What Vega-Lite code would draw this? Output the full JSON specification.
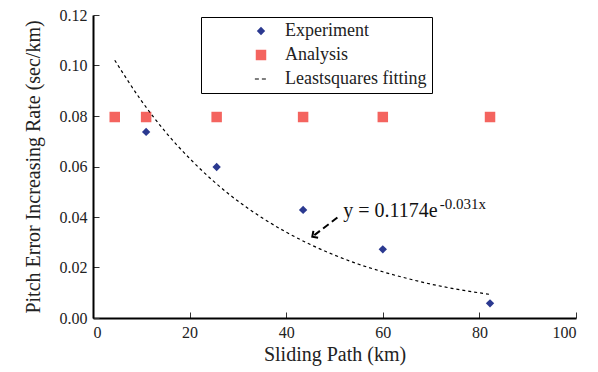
{
  "$schema": "https://vega.github.io/schema/vega-lite/v6.json",
  "width": 483,
  "height": 303,
  "autosize": "none",
  "padding": {"left": 93, "top": 15, "right": 22, "bottom": 54},
  "background": "white",
  "config": {
    "view": {"stroke": null},
    "font": "Liberation Serif",
    "axis": {
      "grid": false,
      "domainColor": "black",
      "domainWidth": 2,
      "tickColor": "#333",
      "tickWidth": 1,
      "tickSize": -6,
      "labelFont": "Liberation Serif",
      "labelFontSize": 16,
      "labelColor": "#222",
      "titleFont": "Liberation Serif",
      "titleFontSize": 20,
      "titleFontWeight": "normal",
      "titleColor": "#222"
    },
    "legend": {
      "labelFont": "Liberation Serif",
      "title": null,
      "orient": "none",
      "legendX": 108,
      "legendY": 2,
      "padding": 5,
      "strokeColor": "black",
      "fillColor": "white",
      "symbolSize": 400,
      "symbolOffset": 46,
      "symbolStrokeWidth": 1.2,
      "labelOffset": 15,
      "rowPadding": 6,
      "labelFontSize": 18,
      "labelColor": "#222",
      "labelLimit": 400
    }
  },
  "datasets": {
    "pts": [
      {"series": "Analysis", "x": 4.5, "y": 0.0796},
      {"series": "Analysis", "x": 11.0, "y": 0.0796},
      {"series": "Analysis", "x": 25.6, "y": 0.0796},
      {"series": "Analysis", "x": 43.5, "y": 0.0796},
      {"series": "Analysis", "x": 60.0, "y": 0.0796},
      {"series": "Analysis", "x": 82.2, "y": 0.0796},
      {"series": "Experiment", "x": 11.0, "y": 0.0737},
      {"series": "Experiment", "x": 25.6, "y": 0.0598},
      {"series": "Experiment", "x": 43.5, "y": 0.0428},
      {"series": "Experiment", "x": 60.0, "y": 0.0272},
      {"series": "Experiment", "x": 82.2, "y": 0.0058}
    ],
    "fit": [
      {"series": "Leastsquares fitting", "x": 4.5, "y": 0.1021},
      {"series": "Leastsquares fitting", "x": 10, "y": 0.0861},
      {"series": "Leastsquares fitting", "x": 15, "y": 0.0737},
      {"series": "Leastsquares fitting", "x": 20, "y": 0.0632},
      {"series": "Leastsquares fitting", "x": 25, "y": 0.0541},
      {"series": "Leastsquares fitting", "x": 30, "y": 0.0463},
      {"series": "Leastsquares fitting", "x": 35, "y": 0.0397},
      {"series": "Leastsquares fitting", "x": 40, "y": 0.0340},
      {"series": "Leastsquares fitting", "x": 45, "y": 0.0291},
      {"series": "Leastsquares fitting", "x": 50, "y": 0.0249},
      {"series": "Leastsquares fitting", "x": 55, "y": 0.0213},
      {"series": "Leastsquares fitting", "x": 60, "y": 0.0183},
      {"series": "Leastsquares fitting", "x": 65, "y": 0.0157},
      {"series": "Leastsquares fitting", "x": 70, "y": 0.0134},
      {"series": "Leastsquares fitting", "x": 75, "y": 0.0115},
      {"series": "Leastsquares fitting", "x": 82, "y": 0.0094}
    ],
    "arrow": [
      {"x": 50.6, "y": 0.0398, "x2": 45.4, "y2": 0.0322}
    ],
    "label": [
      {"x": 51.8, "y": 0.0422, "text": "y = 0.1174e", "sup": "-0.031x", "xs": 71.8, "ys": 0.0450}
    ]
  },
  "layer": [
    {
      "data": {"name": "pts"},
      "mark": {"type": "point", "filled": true, "opacity": 1},
      "encoding": {
        "x": {"field": "x", "type": "quantitative", "scale": {"domain": [0, 100]}, "axis": {"values": [0, 20, 40, 60, 80, 100], "title": "Sliding Path (km)", "labelPadding": 12, "titlePadding": 4}},
        "y": {"field": "y", "type": "quantitative", "scale": {"domain": [0, 0.12]}, "axis": {"values": [0, 0.02, 0.04, 0.06, 0.08, 0.1, 0.12], "format": ".2f", "title": "Pitch Error Increasing Rate (sec/km)", "labelPadding": 12, "titlePadding": 16}},
        "color": {
          "field": "series", "type": "nominal",
          "scale": {"domain": ["Experiment", "Analysis", "Leastsquares fitting"], "range": ["#2b3990", "#f4645f", "black"]}
        },
        "shape": {
          "field": "series", "type": "nominal",
          "scale": {"domain": ["Experiment", "Analysis", "Leastsquares fitting"], "range": ["diamond", "square", "stroke"]}
        },
        "size": {
          "field": "series", "type": "nominal",
          "scale": {"domain": ["Experiment", "Analysis", "Leastsquares fitting"], "range": [70, 150, 400]}
        },
        "stroke": {
          "field": "series", "type": "nominal",
          "scale": {"domain": ["Experiment", "Analysis", "Leastsquares fitting"], "range": ["rgba(0,0,0,0)", "rgba(0,0,0,0)", "black"]}
        },
        "strokeDash": {
          "field": "series", "type": "nominal",
          "scale": {"domain": ["Experiment", "Analysis", "Leastsquares fitting"], "range": [[1, 0], [1, 0], [4, 3]]}
        }
      }
    },
    {
      "data": {"name": "fit"},
      "mark": {"type": "line", "color": "black", "strokeWidth": 1.2, "strokeDash": [3, 3], "interpolate": "monotone"},
      "encoding": {
        "x": {"field": "x", "type": "quantitative"},
        "y": {"field": "y", "type": "quantitative"}
      }
    },
    {
      "data": {"name": "arrow"},
      "mark": {"type": "rule", "color": "black", "strokeWidth": 2, "strokeDash": [7, 4]},
      "encoding": {
        "x": {"field": "x", "type": "quantitative"},
        "y": {"field": "y", "type": "quantitative"},
        "x2": {"field": "x2"},
        "y2": {"field": "y2"}
      }
    },
    {
      "data": {"name": "arrow"},
      "mark": {"type": "point", "shape": "M -1 -1 L 0 0 L -1 1", "filled": false, "stroke": "black", "strokeWidth": 2, "size": 70, "angle": 146, "opacity": 1},
      "encoding": {
        "x": {"field": "x2", "type": "quantitative"},
        "y": {"field": "y2", "type": "quantitative"}
      }
    },
    {
      "data": {"name": "label"},
      "mark": {"type": "text", "align": "left", "baseline": "middle", "font": "Liberation Serif", "fontSize": 20, "color": "#111"},
      "encoding": {
        "x": {"field": "x", "type": "quantitative"},
        "y": {"field": "y", "type": "quantitative"},
        "text": {"field": "text"}
      }
    },
    {
      "data": {"name": "label"},
      "mark": {"type": "text", "align": "left", "baseline": "middle", "font": "Liberation Serif", "fontSize": 15, "color": "#111"},
      "encoding": {
        "x": {"field": "xs", "type": "quantitative"},
        "y": {"field": "ys", "type": "quantitative"},
        "text": {"field": "sup"}
      }
    }
  ]
}
